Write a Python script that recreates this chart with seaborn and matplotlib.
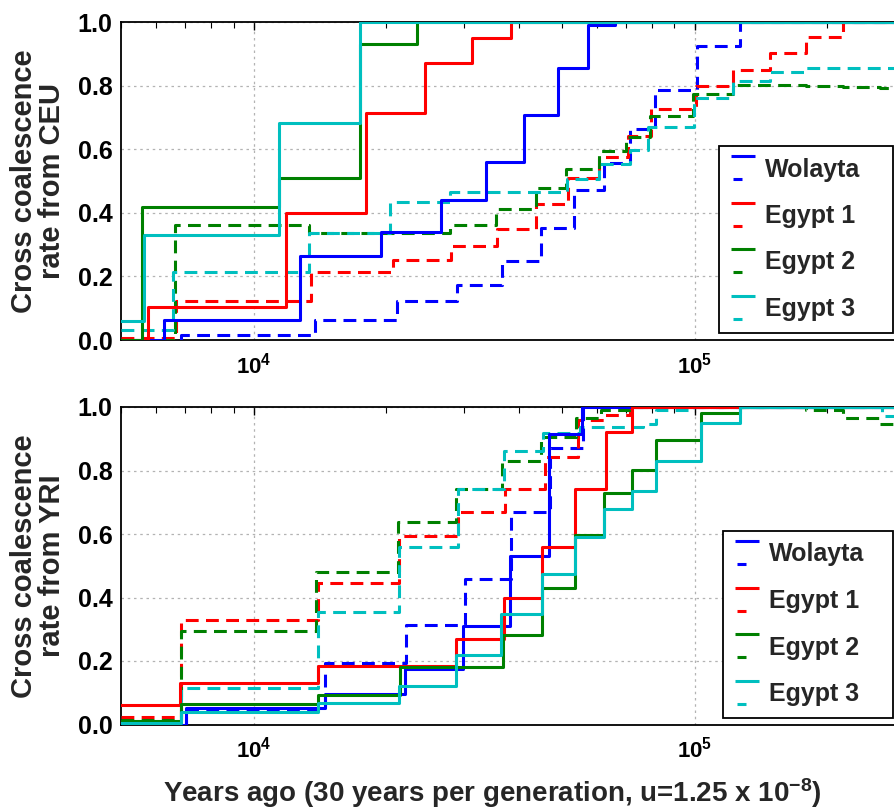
import numpy as np
import pandas as pd
import seaborn as sns
import matplotlib
matplotlib.use("Agg")
import matplotlib.pyplot as plt
from matplotlib.lines import Line2D
from matplotlib.legend_handler import HandlerBase
from matplotlib.ticker import FixedLocator, FixedFormatter, LogLocator, NullFormatter

# ---------------- data (years ago, cross coalescence rate) ----------------
X_MIN, X_MAX = 5000, 300000
labels = ["Wolayta", "Egypt 1", "Egypt 2", "Egypt 3"]
colors = ["#0000ff", "#ff0000", "#008000", "#00bfbf"]

# CEU panel - solid
ceu_wol_x = [5000, 6275, 12760, 19410, 26550, 33580, 41060, 48980, 57280, 65870]
ceu_wol_y = [0.0, 0.064, 0.263, 0.340, 0.441, 0.561, 0.708, 0.855, 0.990, 1.0]
ceu_eg1_x = [5000, 5770, 11838, 18010, 24420, 31330, 38400]
ceu_eg1_y = [0.0, 0.103, 0.399, 0.715, 0.870, 0.949, 1.0]
ceu_eg2_x = [5000, 5570, 11437, 17390, 23460]
ceu_eg2_y = [0.0, 0.417, 0.511, 0.931, 1.0]
ceu_eg3_x = [5000, 5630, 11437, 17390]
ceu_eg3_y = [0.059, 0.329, 0.682, 1.0]
# CEU panel - dashed
ceu_wol_dx = [5000, 6840, 13750, 21140, 28870, 36640, 44760, 53170, 62190, 71240, 81150, 101050, 126520]
ceu_wol_dy = [0.0, 0.015, 0.064, 0.124, 0.174, 0.247, 0.352, 0.472, 0.556, 0.663, 0.786, 0.926, 1.0]
ceu_eg1_dx = [5000, 6675, 13490, 20700, 28000, 35560, 43610, 51500, 60680, 70500, 79600, 100500,
              121980, 147940, 178550, 216650]
ceu_eg1_dy = [0.005, 0.124, 0.214, 0.251, 0.296, 0.350, 0.428, 0.509, 0.577, 0.642, 0.726, 0.799,
              0.849, 0.904, 0.952, 1.0]
ceu_eg2_dx = [5000, 6630, 13360, 27830, 35500, 43610, 51200, 60680, 70000, 79060, 99000, 121980,
              178550, 216650, 262800]
ceu_eg2_dy = [0.0, 0.361, 0.336, 0.362, 0.412, 0.478, 0.537, 0.593, 0.638, 0.705, 0.774, 0.802,
              0.799, 0.795, 0.792]
ceu_eg3_dx = [5000, 6550, 13360, 20350, 27830, 51250, 60680, 71240, 78360, 99480, 121980, 147940, 178550]
ceu_eg3_dy = [0.033, 0.213, 0.335, 0.435, 0.466, 0.506, 0.553, 0.598, 0.671, 0.760, 0.814, 0.843, 0.854]

# YRI panel - solid
yri_wol_x = [5000, 7030, 14490, 22000, 29830, 38060, 46670, 55430]
yri_wol_y = [0.0, 0.052, 0.095, 0.176, 0.311, 0.530, 0.914, 1.0]
yri_eg1_x = [5000, 6820, 13990, 28820, 36890, 45160, 53670, 62850, 72250]
yri_eg1_y = [0.060, 0.132, 0.183, 0.270, 0.399, 0.560, 0.741, 0.920, 1.0]
yri_eg2_x = [5000, 6840, 13990, 21430, 36760, 45160, 53670, 62190, 72250, 81870, 103560, 126520]
yri_eg2_y = [0.012, 0.065, 0.093, 0.182, 0.282, 0.430, 0.598, 0.729, 0.803, 0.897, 0.982, 1.0]
yri_eg3_x = [5000, 6840, 13990, 21300, 28820, 36450, 45160, 53670, 62190, 72250, 81870, 103560, 126520]
yri_eg3_y = [0.005, 0.038, 0.067, 0.120, 0.220, 0.348, 0.474, 0.589, 0.680, 0.737, 0.829, 0.950, 1.0]
# YRI panel - dashed
yri_wol_dx = [5000, 7030, 14490, 22190, 30090, 38400, 46900, 55700]
yri_wol_dy = [0.0, 0.050, 0.193, 0.314, 0.459, 0.669, 0.871, 1.0]
yri_eg1_dx = [5000, 6840, 13990, 21330, 29060, 37200, 45700, 54380, 62520, 71240]
yri_eg1_dy = [0.025, 0.328, 0.447, 0.593, 0.669, 0.741, 0.841, 0.960, 0.975, 1.0]
yri_eg2_dx = [5000, 6840, 13825, 21240, 28820, 36640, 44920, 53920, 61440, 71240, 178550, 216650, 262800]
yri_eg2_dy = [0.014, 0.295, 0.480, 0.637, 0.741, 0.831, 0.905, 0.966, 0.992, 1.0, 0.992, 0.964, 0.948]
yri_eg3_dx = [5000, 6840, 13990, 21330, 29060, 36890, 45230, 54860, 76240, 81870, 99480, 265500]
yri_eg3_dy = [0.005, 0.114, 0.354, 0.558, 0.741, 0.860, 0.917, 0.937, 0.948, 0.992, 1.0, 0.971]

x_tick_vals = [1e4, 1e5]
x_tick_labels = [r"$10^{4}$", r"$10^{5}$"]
y_tick_vals = [0.0, 0.2, 0.4, 0.6, 0.8, 1.0]
y_tick_labels = ["0.0", "0.2", "0.4", "0.6", "0.8", "1.0"]

panels = [
    dict(ylabel="Cross coalescence\nrate from CEU",
         solid=[(ceu_wol_x, ceu_wol_y), (ceu_eg1_x, ceu_eg1_y), (ceu_eg2_x, ceu_eg2_y), (ceu_eg3_x, ceu_eg3_y)],
         dashed=[(ceu_wol_dx, ceu_wol_dy), (ceu_eg1_dx, ceu_eg1_dy), (ceu_eg2_dx, ceu_eg2_dy), (ceu_eg3_dx, ceu_eg3_dy)]),
    dict(ylabel="Cross coalescence\nrate from YRI",
         solid=[(yri_wol_x, yri_wol_y), (yri_eg1_x, yri_eg1_y), (yri_eg2_x, yri_eg2_y), (yri_eg3_x, yri_eg3_y)],
         dashed=[(yri_wol_dx, yri_wol_dy), (yri_eg1_dx, yri_eg1_dy), (yri_eg2_dx, yri_eg2_dy), (yri_eg3_dx, yri_eg3_dy)]),
]

# ---------------- style ----------------
sns.set_style("white")
plt.rcParams["font.family"] = ["Liberation Sans", "DejaVu Sans"]
plt.rcParams["font.weight"] = "bold"
plt.rcParams["mathtext.fontset"] = "custom"
plt.rcParams["mathtext.rm"] = "Liberation Sans:bold"
plt.rcParams["mathtext.it"] = "Liberation Sans:bold"
plt.rcParams["mathtext.bf"] = "Liberation Sans:bold"
plt.rcParams["mathtext.default"] = "rm"

LW = 2.2
DASH = (0, (4.2, 2.4))


class TwoStyleHandler(HandlerBase):
    def create_artists(self, legend, orig_handle, xdescent, ydescent, width, height, fontsize, trans):
        c = orig_handle.get_color()
        yc = height / 2 - ydescent
        x0 = -xdescent
        off = 8.3
        solid = Line2D([x0, x0 + width], [yc + off, yc + off], color=c, lw=LW, transform=trans,
                       solid_capstyle="butt")
        dash = Line2D([x0 + 1.5, x0 + 8.0], [yc - off, yc - off], color=c, lw=LW, transform=trans,
                      solid_capstyle="butt")
        return [solid, dash]


W, H = 895, 811
fig = plt.figure(figsize=(W / 100, H / 100), dpi=100)
ax_left, ax_right = 121, 905
axes_px = [(22, 340), (407, 724.5)]
legend_px = [(719, 333, 893), (723, 718, 893)]

for p, (top, bot), (lx0, lyb, lx1) in zip(panels, axes_px, legend_px):
    ax = fig.add_axes([ax_left / W, 1 - bot / H, (ax_right - ax_left) / W, (bot - top) / H])
    for (xs, ys), c in zip(p["dashed"], colors):
        df = pd.DataFrame({"x": list(xs) + [X_MAX], "y": list(ys) + [ys[-1]]})
        sns.lineplot(data=df, x="x", y="y", ax=ax, color=c, lw=LW, linestyle=DASH,
                     drawstyle="steps-post", estimator=None, sort=False, zorder=3)
    for (xs, ys), c in zip(p["solid"], colors):
        df = pd.DataFrame({"x": list(xs) + [X_MAX], "y": list(ys) + [ys[-1]]})
        sns.lineplot(data=df, x="x", y="y", ax=ax, color=c, lw=LW, linestyle="-",
                     drawstyle="steps-post", estimator=None, sort=False, zorder=4)
    ax.set_xscale("log")
    ax.set_xlim(X_MIN, X_MAX)
    ax.set_ylim(0, 1)
    ax.xaxis.set_major_locator(FixedLocator(x_tick_vals))
    ax.xaxis.set_major_formatter(FixedFormatter(x_tick_labels))
    ax.xaxis.set_minor_locator(LogLocator(base=10, subs=np.arange(2, 10)))
    ax.xaxis.set_minor_formatter(NullFormatter())
    ax.yaxis.set_major_locator(FixedLocator(y_tick_vals))
    ax.yaxis.set_major_formatter(FixedFormatter(y_tick_labels))
    ax.tick_params(which="both", direction="in", top=True, right=True, colors="black")
    ax.tick_params(which="major", length=6, width=1.0, pad=6)
    ax.tick_params(which="minor", length=4, width=0.8)
    ax.tick_params(axis="y", labelsize=18)
    ax.tick_params(axis="x", labelsize=16, pad=9)
    ax.grid(True, which="major", color="#b3b3b3", linestyle=(0, (2, 3)), linewidth=0.9)
    for s in ax.spines.values():
        s.set_visible(True)
        s.set_color("black")
        s.set_linewidth(1.3)
    ax.set_xlabel("")
    ax.set_ylabel(p["ylabel"], fontsize=21, fontweight="bold", linespacing=1.0)
    ax.yaxis.label.set_verticalalignment("center")
    ax.yaxis.set_label_coords((38 - ax_left) / (ax_right - ax_left), 0.5)

    handles = [Line2D([], [], color=c) for c in colors]
    bx0 = (lx0 - ax_left) / (ax_right - ax_left)
    by0 = (bot - lyb) / (bot - top)
    bw = (lx1 - lx0) / (ax_right - ax_left)
    leg = ax.legend(handles, labels, loc="lower left", bbox_to_anchor=(bx0, by0, bw, 0.5),
                    mode="expand", borderaxespad=0, fontsize=18, frameon=True, fancybox=False,
                    framealpha=1, edgecolor="black", handlelength=0.96, handletextpad=0.4,
                    labelspacing=0.9, borderpad=0.48,
                    handler_map={Line2D: TwoStyleHandler()},
                    prop={"weight": "bold", "size": 18})
    leg.get_frame().set_linewidth(1.3)
    leg.set_zorder(10)

fig.text(492 / W, 1 - 793 / H, r"Years ago (30 years per generation, u=1.25 x 10$^{-8}$)",
         ha="center", va="center", fontsize=20, fontweight="bold")

fig.savefig("out.png", dpi=100)
